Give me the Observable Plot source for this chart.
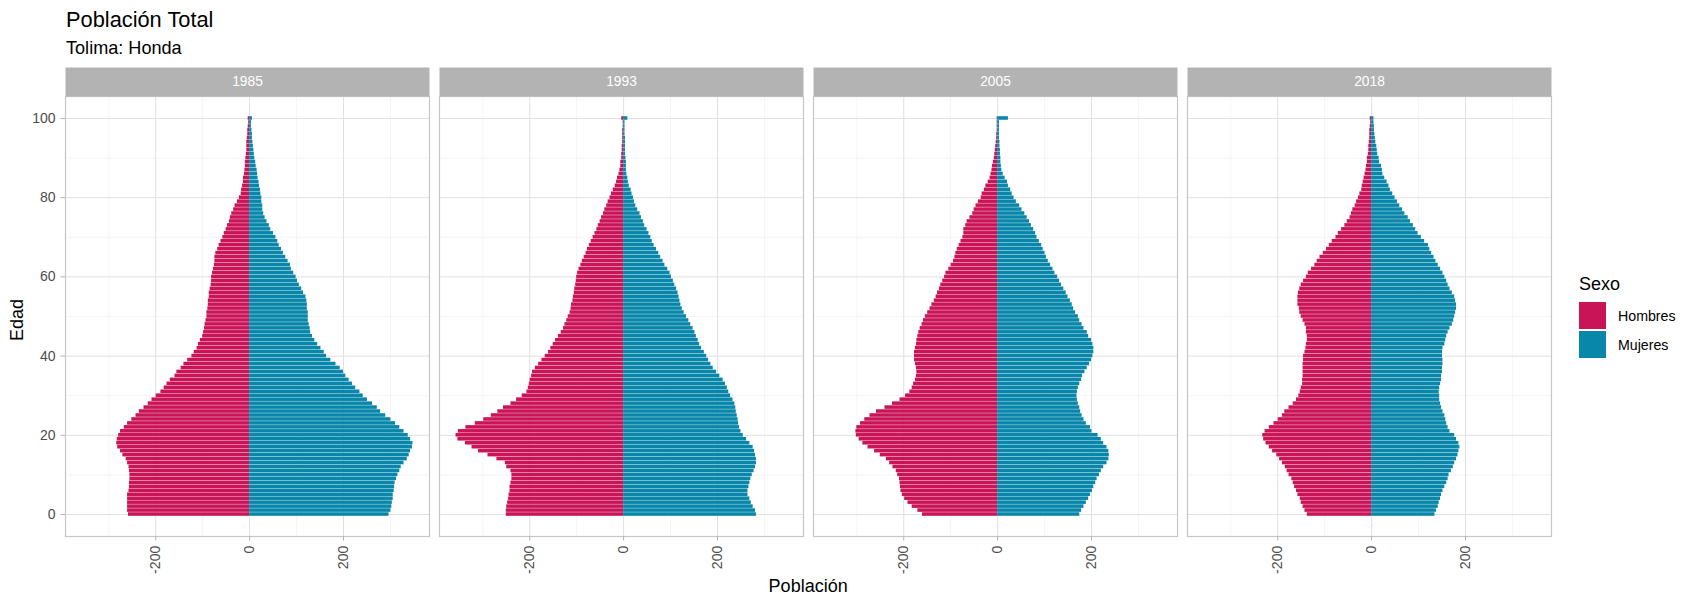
<!DOCTYPE html>
<html>
<head>
<meta charset="utf-8">
<script src="https://cdn.jsdelivr.net/npm/d3@7"></script>
<script src="https://cdn.jsdelivr.net/npm/@observablehq/plot@0.6"></script>
<style>
  html, body { margin: 0; padding: 0; background: #ffffff; }
  #wrap { position: relative; width: 1681px; height: 597px; overflow: hidden; font-family: "Liberation Sans", Arial, sans-serif; }
  #wrap svg { position: absolute; left: 0; top: 0; }
</style>
</head>
<body>
<div id="wrap"></div>
<script>
// ---- Data ----
const years = ["1985", "1993", "2005", "2018"];
const sexos = ["Hombres", "Mujeres"];
const colores = ["#CA1458", "#0887AA"];
const ages = d3.range(0, 101);
const xTicks = [-200, 0, 200];
const yTicks = [0, 20, 40, 60, 80, 100];

const hombres1985 = [258,260,260,260,260,260,257,256,256,255,255,256,257,260,263,270,275,281,283,282,279,275,267,260,251,242,235,225,216,208,199,189,182,176,169,159,155,146,140,132,123,118,112,109,105,100,98,96,95,93,91,91,89,88,88,86,86,84,82,81,81,79,77,75,74,74,72,68,65,61,57,54,50,47,43,41,38,34,31,26,22,18,17,15,13,13,11,10,9,9,8,7,6,6,6,5,4,4,3,2,3];
const mujeres1985 = [297,301,303,304,306,306,308,309,310,313,316,320,323,329,336,340,343,347,348,343,338,329,320,311,301,290,279,272,262,251,242,235,226,219,212,205,200,193,184,173,164,159,152,145,139,134,130,129,127,125,125,125,123,123,122,120,115,111,106,102,99,94,89,87,82,77,72,68,63,60,56,51,45,42,37,33,30,28,28,26,26,24,23,21,20,18,17,16,14,13,11,10,9,8,7,6,6,5,4,4,6];
const hombres1993 = [250,250,249,247,245,244,242,242,240,238,238,240,249,252,270,289,309,323,337,353,357,352,336,316,298,282,268,256,240,228,216,206,203,201,199,196,194,188,181,174,167,160,155,150,145,139,133,128,125,121,118,114,112,111,108,107,105,104,102,101,100,98,95,91,88,84,80,77,73,69,65,61,57,54,50,47,43,40,36,33,29,26,22,18,15,13,10,8,6,6,4,4,3,3,2,2,2,2,1,1,4];
const mujeres1993 = [283,281,276,272,269,265,265,267,269,271,274,278,281,283,283,281,279,276,269,262,255,250,247,245,244,242,240,239,237,233,228,224,221,217,212,205,198,191,186,181,177,172,166,162,159,155,152,148,143,139,134,129,125,122,120,118,116,113,109,106,102,99,94,88,84,79,75,70,65,61,58,54,50,45,42,38,35,30,26,23,21,18,16,12,10,9,7,6,6,6,5,4,4,4,4,4,3,3,3,3,9];
const hombres2005 = [160,170,182,191,198,203,206,207,208,209,213,216,223,230,237,250,262,276,287,295,301,302,300,292,283,272,258,240,224,208,196,187,182,179,175,173,172,173,175,177,177,177,175,173,172,170,168,165,161,158,154,149,144,140,135,131,128,124,121,117,113,110,104,99,94,91,89,86,82,78,74,72,72,68,65,59,53,50,46,41,35,33,28,25,20,16,14,12,11,9,7,6,5,4,3,2,2,1,1,1,1];
const mujeres2005 = [175,179,184,189,194,198,202,205,209,212,217,221,226,233,237,238,237,233,226,221,214,201,198,189,184,180,177,175,172,170,169,170,172,175,179,181,186,191,196,200,203,205,205,203,200,194,191,184,180,175,172,166,162,159,155,150,146,141,136,132,128,122,118,113,108,104,101,97,94,89,84,81,77,72,68,63,58,52,47,40,35,31,28,23,21,16,12,9,8,7,7,6,6,5,5,4,4,4,4,4,23];
const hombres2018 = [137,142,146,150,152,157,160,164,167,170,176,180,184,190,196,202,211,218,225,230,232,227,218,208,199,190,185,176,167,160,155,152,150,147,147,146,146,146,146,145,145,142,140,139,137,137,139,139,142,146,150,153,154,157,157,157,156,153,150,145,139,135,128,121,116,110,103,96,90,84,76,71,64,57,52,46,43,40,35,32,28,25,21,20,18,16,14,12,11,9,9,7,6,6,5,4,4,4,3,2,3];
const mujeres2018 = [135,138,142,144,147,149,152,156,160,163,165,170,174,177,181,184,186,188,186,181,177,167,163,160,158,156,152,149,147,145,145,144,145,147,149,149,151,151,152,152,151,151,152,156,158,160,163,167,172,175,177,179,181,181,179,177,172,167,163,160,156,152,147,142,137,133,128,124,121,113,106,99,94,89,83,78,71,66,60,55,50,45,40,37,33,28,24,23,21,17,16,13,12,11,9,8,7,6,6,5,5];

const hombres = [hombres1985, hombres1993, hombres2005, hombres2018];
const mujeres = [mujeres1985, mujeres1993, mujeres2005, mujeres2018];

// ---- Table for Plot ----
const rows = [];
years.forEach((yr, i) => {
  ages.forEach((a, j) => {
    rows.push({year: yr, edad: a, sexo: "Hombres", valor: -hombres[i][j]});
    rows.push({year: yr, edad: a, sexo: "Mujeres", valor: mujeres[i][j]});
  });
});

// ggplot-like scale expansion (5% of range)
const allVals = rows.map(d => d.valor);
const xMin = d3.min(allVals), xMax = d3.max(allVals);
const xPad = (xMax - xMin) * 0.05;
const xDomain = [xMin - xPad, xMax + xPad];
const yPad = 101 * 0.05;
const yDomain = [-0.5 - yPad, 100.5 + yPad];

const W = 1681, H = 597;
const mL = 65, mR = 129.7, mT = 96, mB = 61;
const stripH = 29;
const panelH = H - mT - mB;
const font = "'Liberation Sans', Arial, sans-serif";

const chart = Plot.plot({
  width: W,
  height: H,
  marginLeft: mL,
  marginRight: mR,
  marginTop: mT,
  marginBottom: mB,
  style: {fontFamily: font, background: "transparent", overflow: "visible"},
  fx: {domain: years, paddingInner: 0.026, paddingOuter: 0, axis: null, label: null},
  x: {domain: xDomain, label: null},
  y: {domain: yDomain, label: null},
  color: {domain: sexos, range: colores},
  marks: [
    Plot.gridX([-300, -100, 100, 300], {stroke: "#ececec", strokeOpacity: 1, strokeWidth: 0.6}),
    Plot.gridY([10, 30, 50, 70, 90], {stroke: "#ececec", strokeOpacity: 1, strokeWidth: 0.6}),
    Plot.gridX(xTicks, {stroke: "#e0e0e0", strokeOpacity: 1, strokeWidth: 1}),
    Plot.gridY(yTicks, {stroke: "#e0e0e0", strokeOpacity: 1, strokeWidth: 1}),
    Plot.rect(rows, {
      fx: "year",
      x1: () => 0,
      x2: "valor",
      y1: d => d.edad - 0.45,
      y2: d => d.edad + 0.45,
      fill: "sexo"
    }),
    Plot.frame({stroke: "#c6c6c6", strokeWidth: 1.2}),
    Plot.frame({fill: "#b3b3b3", stroke: null, insetTop: -stripH, insetBottom: panelH}),
    Plot.text(years, {fx: d => d, text: d => d, frameAnchor: "top", dy: -stripH / 2, fill: "white", fontSize: 13.8, lineAnchor: "middle"}),
    Plot.axisX(xTicks, {
      tickRotate: -90,
      tickFormat: d => String(d),
      tickSize: 4.5,
      tickPadding: 4.5,
      fontSize: 14.2,
      fill: "#4d4d4d",
      stroke: "#b3b3b3",
      label: null
    }),
    Plot.axisY(yTicks, {
      tickSize: 4.5,
      tickPadding: 5.5,
      fontSize: 14,
      fill: "#4d4d4d",
      stroke: "#b3b3b3",
      label: null
    })
  ]
});

const wrap = document.getElementById("wrap");
wrap.appendChild(chart);

// ---- Titles, axis titles and legend (overlay SVG text) ----
const ns = "http://www.w3.org/2000/svg";
const ov = document.createElementNS(ns, "svg");
ov.setAttribute("width", W);
ov.setAttribute("height", H);
ov.style.pointerEvents = "none";
ov.style.fontFamily = font;
function txt(s, x, y, size, fill, extra) {
  const t = document.createElementNS(ns, "text");
  t.textContent = s;
  t.setAttribute("x", x);
  t.setAttribute("y", y);
  t.setAttribute("font-size", size);
  t.setAttribute("fill", fill);
  if (extra) for (const k in extra) t.setAttribute(k, extra[k]);
  ov.appendChild(t);
  return t;
}
txt("Población Total", 66, 27, 21.8, "#000000");
txt("Tolima: Honda", 66, 54, 18.1, "#000000");
txt("Población", (mL + (W - mR)) / 2, 591.5, 18, "#000000", {"text-anchor": "middle"});
txt("Edad", 0, 0, 18, "#000000", {"text-anchor": "middle", "transform": `translate(23,${mT + panelH / 2 + 4}) rotate(-90)`});

// legend
txt("Sexo", 1579, 289.5, 18, "#000000");
sexos.forEach((s, i) => {
  const r = document.createElementNS(ns, "rect");
  r.setAttribute("x", 1579);
  r.setAttribute("y", 302 + i * 29);
  r.setAttribute("width", 27);
  r.setAttribute("height", 27);
  r.setAttribute("fill", colores[i]);
  ov.appendChild(r);
  txt(s, 1618, 302 + i * 29 + 13.5, 14.2, "#000000", {"dominant-baseline": "central"});
});
wrap.appendChild(ov);
</script>
</body>
</html>
